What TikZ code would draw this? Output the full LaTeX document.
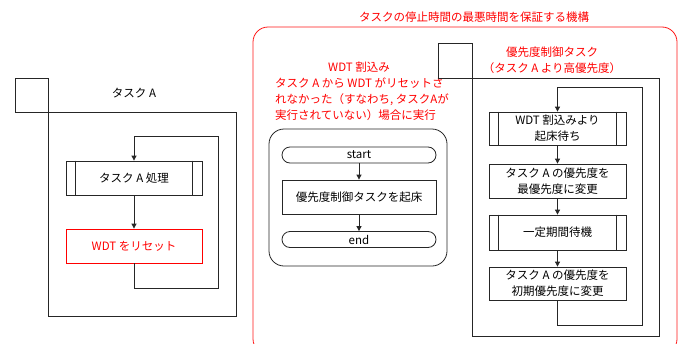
\documentclass[tikz,border=0pt]{standalone}
\usepackage{fontspec}
\setmainfont{Noto Sans CJK JP}
\usetikzlibrary{arrows.meta}
\begin{document}
\begin{tikzpicture}[x=1pt,y=-1pt,
  font=\fontsize{11.5}{16.3}\selectfont,
  line/.style={draw=black!85, line width=0.8pt},
  box/.style={line, rectangle, inner sep=0pt, align=center, minimum width=136pt},
  term/.style={line, rectangle, rounded corners=8pt, inner sep=0pt, minimum width=154pt, minimum height=16pt},
  arr/.style={line, -{Triangle[length=5pt,width=5pt]}},
  redline/.style={draw=red!90, line width=0.8pt},
  redtext/.style={text=red, inner sep=0pt}]
\useasboundingbox (0,0) rectangle (680,343);
\fill[white] (0,0) rectangle (680,343);
% mechanism frame
\begin{scope}
\clip (0,0) rectangle (680,343);
\draw[redline, rounded corners=15pt] (253,27) rectangle (677,354);
\end{scope}
\node[redtext] (title) at (474,17) {タスクの停止時間の最悪時間を保証する機構};
% Task A
\draw[line] (15,78) rectangle (48,112);
\draw[line] (48,112) rectangle (236,316);
\node[inner sep=0pt] (tA) at (134,93) {タスク A};
\node[box, minimum height=34pt] (procA) at (134,178) {タスク A 処理};
\draw[line] ([xshift=10pt]procA.north west) -- ([xshift=10pt]procA.south west);
\draw[line] ([xshift=-10pt]procA.north east) -- ([xshift=-10pt]procA.south east);
\node[box, draw=red, text=red, minimum height=34pt] (reset) at (134,246) {WDT をリセット};
\draw[arr] (procA) -- (reset);
\coordinate (lb) at (218,288);
\coordinate (lt) at (218,136);
\draw[arr] (reset.south) |- (lb) -- (lt) -| (procA.north);
% WDT interrupt
\node[redtext] (wdt) at (359,67) {WDT 割込み};
\node[redtext, align=left, anchor=west] (cond) at (275,99) {タスク A から WDT がリセットさ\\れなかった（すなわち, タスクAが\\実行されていない）場合に実行};
\draw[line, rounded corners=15pt] (269,129) rectangle (447,266);
\node[term] (start) at (359,155) {start};
\node[box, minimum width=154pt, minimum height=34pt] (wake) at (359,197) {優先度制御タスクを起床};
\node[term] (end) at (359,239.5) {end};
\draw[arr] (start) -- (wake);
\draw[arr] (wake) -- (end);
% Priority control task
\draw[line] (438,43) rectangle (472,78);
\draw[line] (472,78) rectangle (659,336);
\node[redtext, align=center] (pct) at (552,60.5) {優先度制御タスク\\（タスク A より高優先度）};
\node[box, minimum width=137pt, minimum height=33pt] (b1) at (557.5,128.5) {WDT 割込みより\\起床待ち};
\draw[line] ([xshift=10pt]b1.north west) -- ([xshift=10pt]b1.south west);
\draw[line] ([xshift=-10pt]b1.north east) -- ([xshift=-10pt]b1.south east);
\node[box, minimum width=137pt, minimum height=34pt] (b2) at (557.5,181) {タスク A の優先度を\\最優先度に変更};
\node[box, minimum width=137pt, minimum height=35pt] (b3) at (557.5,232.5) {一定期間待機};
\draw[line] ([xshift=10pt]b3.north west) -- ([xshift=10pt]b3.south west);
\draw[line] ([xshift=-10pt]b3.north east) -- ([xshift=-10pt]b3.south east);
\node[box, minimum width=137pt, minimum height=33pt] (b4) at (557.5,283.5) {タスク A の優先度を\\初期優先度に変更};
\draw[arr] (b1) -- (b2);
\draw[arr] (b2) -- (b3);
\draw[arr] (b3) -- (b4);
\coordinate (rb) at (642,325);
\coordinate (rt) at (642,87);
\draw[arr] (b4.south) |- (rb) -- (rt) -| (b1.north);
\end{tikzpicture}
\end{document}
